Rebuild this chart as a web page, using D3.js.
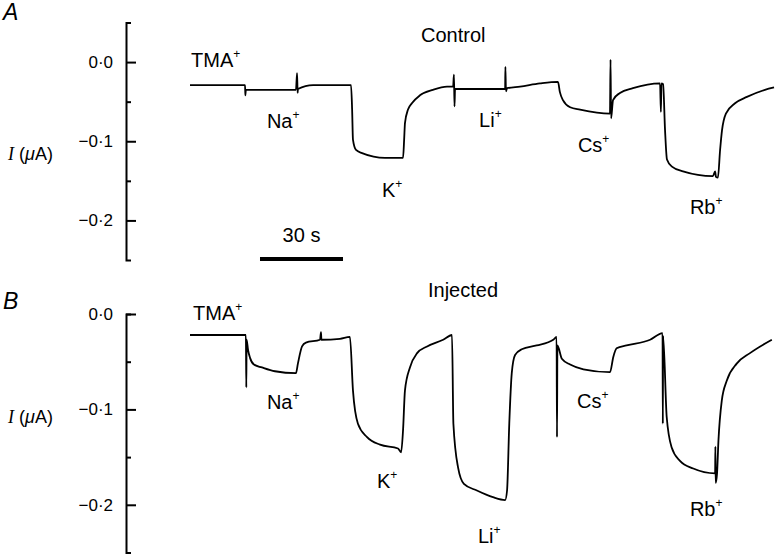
<!DOCTYPE html>
<html>
<head>
<meta charset="utf-8">
<script src="https://cdn.jsdelivr.net/npm/d3@7"></script>
<style>
    body { margin: 0; background: #fff; }
    text { font-family: "Liberation Sans", Arial, sans-serif; fill: #000; }
</style>
</head>
<body>
<div id="chart"></div>
<script>
// membrane current traces, time in s, current in uA
var timeA = [0, 19.9, 20.0, 20.2, 38.3, 38.7, 38.9, 39.0, 44.5, 58.2, 58.6, 58.9, 60.0, 62.2, 70.5, 77.0,
    77.4, 77.7, 78.8, 80.2, 83.1, 87.8, 92.9, 95.1, 95.4, 95.6, 95.8, 113.9, 114.0, 114.2, 114.6, 119.3,
    126.5, 133.0, 133.7, 134.8, 137.4, 141.0, 151.8, 152.0, 152.2, 152.9, 155.4, 160.1, 169.9, 170.2,
    170.4, 171.0, 171.7, 172.4, 174.2, 178.2, 189.0, 189.8, 190.1, 190.8, 191.6, 192.3, 193.7, 197.0,
    201.3, 207.8, 211.1];
var currentA = [-0.029, -0.029, -0.042, -0.035, -0.035, -0.014, -0.039, -0.034, -0.029, -0.029, -0.060,
    -0.098, -0.111, -0.115, -0.121, -0.121, -0.098, -0.077, -0.060, -0.052, -0.042, -0.035, -0.031, -0.031,
    -0.016, -0.056, -0.034, -0.034, -0.006, -0.037, -0.033, -0.031, -0.027, -0.025, -0.038, -0.048, -0.057,
    -0.060, -0.065, 0.003, -0.071, -0.048, -0.039, -0.033, -0.027, -0.063, -0.027, -0.028, -0.086, -0.123,
    -0.132, -0.138, -0.144, -0.138, -0.145, -0.146, -0.111, -0.086, -0.065, -0.052, -0.044, -0.035, -0.032];

var timeB = [0, 20.2, 20.35, 20.46, 21.0, 21.7, 23.1, 26.0, 30.7, 38.3, 39.0, 40.5, 41.9, 47.0, 47.35,
    47.5, 54.2, 57.8, 58.9, 60.7, 64.0, 68.7, 75.2, 76.3, 77.0, 77.7, 79.5, 82.1, 85.7, 91.5, 94.7, 95.2,
    96.9, 99.0, 103.7, 109.5, 113.9, 114.6, 115.4, 116.3, 117.5, 119.9, 125.3, 131.3, 132.5, 132.65, 132.8,
    134.4, 137.4, 142.2, 151.8, 153.0, 154.2, 157.8, 166.3, 170.8, 170.9, 171.0, 172.3, 174.1, 177.1,
    181.9, 189.8, 189.9, 190.0, 190.5, 191.0, 192.2, 194.0, 197.6, 202.4, 210.3];
var currentB = [-0.022, -0.022, -0.077, -0.027, -0.038, -0.046, -0.053, -0.056, -0.060, -0.062, -0.052,
    -0.034, -0.030, -0.027, -0.019, -0.027, -0.026, -0.024, -0.080, -0.115, -0.129, -0.137, -0.141, -0.145,
    -0.122, -0.080, -0.056, -0.041, -0.034, -0.027, -0.022, -0.115, -0.161, -0.178, -0.185, -0.192, -0.195,
    -0.185, -0.115, -0.062, -0.043, -0.037, -0.033, -0.027, -0.024, -0.129, -0.033, -0.047, -0.053, -0.058,
    -0.061, -0.045, -0.036, -0.033, -0.027, -0.020, -0.115, -0.023, -0.108, -0.140, -0.154, -0.162, -0.167,
    -0.139, -0.177, -0.167, -0.133, -0.091, -0.070, -0.052, -0.041, -0.027];

// solution labels and where they sit (time, current)
var ions = ["TMA", "Na", "K", "Li", "Cs", "Rb"];
var ionTimeA = [0.4, 27.8, 69.4, 104.5, 140.2, 180.7];
var ionCurrentA = [-0.006, -0.083, -0.170, -0.082, -0.113, -0.192];
var ionTimeB = [1.1, 27.8, 67.6, 104.1, 139.9, 180.7];
var ionCurrentB = [-0.006, -0.100, -0.182, -0.240, -0.099, -0.212];

var majorTicks = [0, -0.1, -0.2];
var minorTicks = [-0.05, -0.15];
var scaleBarSeconds = 30;

var width = 776, height = 557;

var svg = d3.select("#chart").append("svg")
    .attr("width", width)
    .attr("height", height);

var x = d3.scaleLinear().domain([0, 210]).range([190, 771]);

function fmt(d) {
    var s = Math.abs(d).toFixed(1).replace(".", "\u00b7");
    return (d < -1e-9 ? "\u2212" : "") + s;
}

function drawPanel(cfg) {
    var y = d3.scaleLinear().domain(cfg.yDomain).range(cfg.yRange);

    // y axis: labels on the left, ticks pointing right
    var ax = svg.append("g")
        .attr("transform", "translate(126,0)")
        .call(d3.axisLeft(y)
            .tickValues(majorTicks)
            .tickSizeInner(-10)
            .tickSizeOuter(-5)
            .tickPadding(13)
            .tickFormat(fmt));
    ax.attr("font-size", 17).attr("font-family", "Liberation Sans, Arial, sans-serif");
    ax.select(".domain").attr("stroke-width", 2);
    ax.selectAll(".tick line").attr("stroke-width", 2);

    var minor = svg.append("g")
        .attr("transform", "translate(126,0)")
        .call(d3.axisLeft(y).tickValues(minorTicks).tickSize(-5).tickFormat(""));
    minor.select(".domain").remove();
    minor.selectAll(".tick line").attr("stroke-width", 2);

    // y label
    var yl = svg.append("text")
        .attr("x", 8)
        .attr("y", cfg.yLabelY)
        .attr("font-size", 18);
    yl.append("tspan").attr("font-family", "Liberation Serif, serif").attr("font-style", "italic").text("I");
    yl.append("tspan").text(" (");
    yl.append("tspan").attr("font-style", "italic").text("\u03bc");
    yl.append("tspan").text("A)");

    // panel letter
    svg.append("text")
        .attr("x", 3)
        .attr("y", cfg.letterY)
        .attr("font-size", 23)
        .attr("font-style", "italic")
        .text(cfg.letter);

    // title
    svg.append("text")
        .attr("x", cfg.titleX)
        .attr("y", cfg.titleY)
        .attr("font-size", 20)
        .text(cfg.title);

    // trace
    var pts = cfg.time.map(function (t, i) { return [t, cfg.current[i]]; });
    var line = d3.line()
        .curve(d3.curveMonotoneX)
        .x(function (d) { return x(d[0]); })
        .y(function (d) { return y(d[1]); });
    svg.append("path")
        .datum(pts)
        .attr("d", line)
        .attr("fill", "none")
        .attr("stroke", "#000")
        .attr("stroke-width", 1.8)
        .attr("stroke-linejoin", "round");

    // ion labels
    var lab = svg.append("g").selectAll("text")
        .data(ions)
        .enter().append("text")
        .attr("x", function (d, i) { return x(cfg.ionTime[i]); })
        .attr("y", function (d, i) { return y(cfg.ionCurrent[i]); })
        .attr("font-size", 20)
        .text(function (d) { return d; });
    lab.append("tspan")
        .attr("font-size", 12)
        .attr("dy", -9)
        .text("+");

    return y;
}

drawPanel({
    letter: "A", letterY: 20, title: "Control", titleX: 421, titleY: 42,
    yDomain: [0.05, -0.25], yRange: [22.5, 260], yLabelY: 160,
    time: timeA, current: currentA, ionTime: ionTimeA, ionCurrent: ionCurrentA
});

drawPanel({
    letter: "B", letterY: 309, title: "Injected", titleX: 428, titleY: 297,
    yDomain: [0, -0.25], yRange: [314, 552.5], yLabelY: 423,
    time: timeB, current: currentB, ionTime: ionTimeB, ionCurrent: ionCurrentB
});

// 30 s scale bar
var barStart = 25.3;
svg.append("line")
    .attr("x1", x(barStart))
    .attr("x2", x(barStart + scaleBarSeconds))
    .attr("y1", 259)
    .attr("y2", 259)
    .attr("stroke", "#000")
    .attr("stroke-width", 4);
svg.append("text")
    .attr("x", (x(barStart) + x(barStart + scaleBarSeconds)) / 2)
    .attr("y", 242)
    .attr("text-anchor", "middle")
    .attr("font-size", 20)
    .text(scaleBarSeconds + " s");
</script>
</body>
</html>
